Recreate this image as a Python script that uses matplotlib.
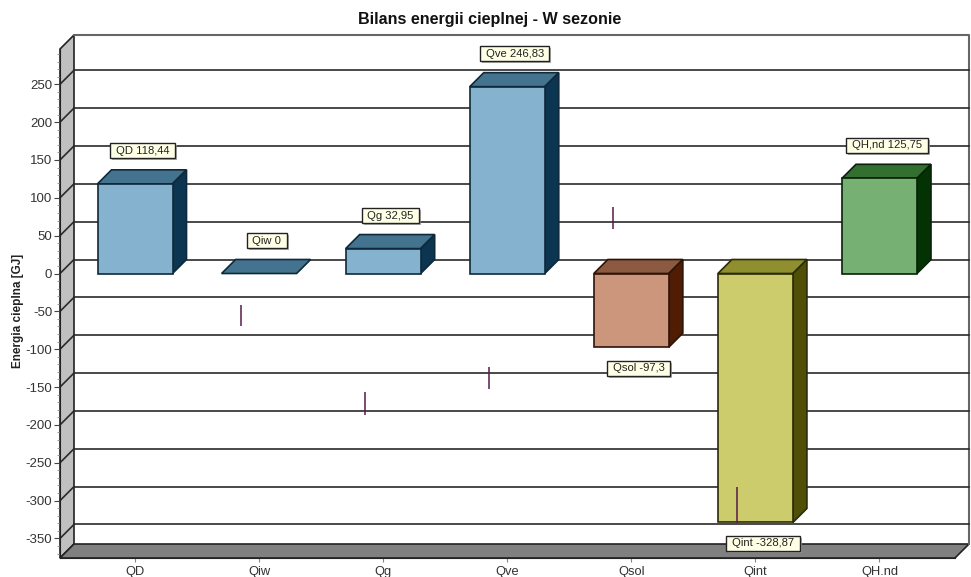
import matplotlib
matplotlib.use('Agg')
import matplotlib.pyplot as plt
import matplotlib.patches as patches
import matplotlib.patheffects as pe
from matplotlib.ticker import MultipleLocator

plt.rcParams['font.family'] = ['Liberation Sans', 'DejaVu Sans']
plt.rcParams['axes.unicode_minus'] = False

# Dane
categories = ['QD', 'Qiw', 'Qg', 'Qve', 'Qsol', 'Qint', 'QH.nd']
label_names = ['QD', 'Qiw', 'Qg', 'Qve', 'Qsol', 'Qint', 'QH,nd']
values = [118.44, 0, 32.95, 246.83, -97.3, -328.87, 125.75]
y_ticks = list(range(-350, 251, 50))

# Pionowe kreski przy slupkach: (pozycja kategorii, od, do)
mark_x = [1, 2, 3, 4, 5]
mark_low = [-69, -187, -153, 59, -330]
mark_high = [-41, -157, -124, 88, -282]

# Kolory: przod, gora, bok
blue = ('#85b2cf', '#44738f', '#0b3551')
brown = ('#cc967c', '#8b5a40', '#501c04')
olive = ('#cccc6c', '#8f8f30', '#4f4f08')
green = ('#76b072', '#33702f', '#033303')
bar_colors = [blue, blue, blue, blue, brown, olive, green]
edge_colors = ['#10293a', '#10293a', '#10293a', '#10293a', '#2e1408', '#2b2b08', '#0a200a']

W, H = 971, 577
fig = plt.figure(figsize=(W / 100, H / 100), dpi=100, facecolor='white')
ax = fig.add_axes([60 / W, (H - 558) / H, 895 / W, 509 / H])
ax.patch.set_visible(False)

px_x = 124.07      # pikseli na kategorie
px_y = 0.757       # pikseli na jednostke
xmin = -75 / px_x
xmax = 6 + 75.5 / px_x
ymin = (273.5 - 558) / px_y
ymax = (273.5 - 49) / px_y
ax.set_xlim(xmin, xmax)
ax.set_ylim(ymin, ymax)

# Glebokosc 3D w jednostkach danych
dx = 14 / px_x
dy = 14 / px_y
bar_w = 75 / px_x

# Sciana lewa i podloga
ax.add_patch(patches.Polygon([(xmin, ymin), (xmin + dx, ymin + dy), (xmin + dx, ymax + dy), (xmin, ymax)],
                             facecolor='#c0c0c0', edgecolor='#222222', linewidth=1.2, clip_on=False, zorder=1))
ax.add_patch(patches.Polygon([(xmin, ymin), (xmin + dx, ymin + dy), (xmax + dx, ymin + dy), (xmax, ymin)],
                             facecolor='#808080', edgecolor='#222222', linewidth=1.2, clip_on=False, zorder=1))

# Ramka tylnej sciany
ax.plot([xmin + dx, xmax + dx, xmax + dx], [ymax + dy, ymax + dy, ymin + dy], color='#666666', lw=1.5,
        clip_on=False, zorder=1)

# Linie siatki na tylnej scianie i skosy na lewej
for t in y_ticks:
    ax.plot([xmin + dx, xmax + dx], [t + dy, t + dy], color='#2a2a2a', lw=1.2, clip_on=False, zorder=1.5)
    ax.plot([xmin, xmin + dx], [t, t + dy], color='#2a2a2a', lw=1.2, clip_on=False, zorder=1.5)

# Slupki
for i, v in enumerate(values):
    front, top, side = bar_colors[i]
    edge = edge_colors[i]
    low = min(v, 0)
    high = max(v, 0)
    left = i - bar_w / 2
    right = i + bar_w / 2
    ax.add_patch(patches.Polygon([(left, high), (left + dx, high + dy), (right + dx, high + dy), (right, high)],
                                 facecolor=top, edgecolor=edge, linewidth=1.2, zorder=3, clip_on=False))
    if v != 0:
        ax.add_patch(patches.Polygon([(right, low), (right + dx, low + dy), (right + dx, high + dy), (right, high)],
                                     facecolor=side, edgecolor=edge, linewidth=1.2, zorder=3, clip_on=False))
        ax.bar(i, v, width=bar_w, color=front, edgecolor=edge, linewidth=1.2, zorder=3)

# Kreski
ax.vlines([x - 18 / px_x for x in mark_x], mark_low, mark_high, color='#5a1a4a', lw=1.1, zorder=4)

# Etykiety z wartosciami
for i, v in enumerate(values):
    txt = f' {label_names[i]} {v:g} '.replace('.', ',')
    off = 33 if v >= 0 else -21
    ann = ax.annotate(txt, (i, v), xytext=(7.5, off), textcoords='offset pixels', ha='center', va='center',
                      fontsize=8.1, color='#222222', zorder=6, annotation_clip=False,
                      bbox=dict(boxstyle='square,pad=0.22', facecolor='#ffffe6', edgecolor='#222222', linewidth=1))
    ann.get_bbox_patch().set_path_effects([pe.SimplePatchShadow(offset=(1.5, -1.5), shadow_rgbFace='#999999', alpha=0.8),
                                           pe.Normal()])

# Osie
for s in ['top', 'right']:
    ax.spines[s].set_visible(False)
ax.spines['left'].set_color('#222222')
ax.spines['bottom'].set_color('#222222')
ax.spines['left'].set_zorder(2)
ax.spines['bottom'].set_zorder(2)
ax.set_xticks(range(len(categories)))
ax.set_xticklabels(categories, fontsize=9.3, color='#333333')
ax.set_yticks(y_ticks)
ax.yaxis.set_minor_locator(MultipleLocator(10))
ax.tick_params(axis='y', which='major', length=4, width=0.8, color='#444444', labelsize=9.5, labelcolor='#333333', pad=1.5)
ax.tick_params(axis='y', which='minor', length=2, width=0.6, color='#888888')
ax.tick_params(axis='x', length=3, width=0.8, color='#888888', pad=2.5)

fig.text(490 / W, 1 - 19.5 / H, 'Bilans energii cieplnej - W sezonie', ha='center', va='center',
         fontsize=11.6, fontweight='bold', color='#111111')
fig.text(18 / W, 1 - 311 / H, 'Energia cieplna [GJ]', rotation=90, ha='center', va='center',
         fontsize=8.5, fontweight='bold', color='#222222')

fig.savefig('out.png', dpi=100, facecolor='white')
